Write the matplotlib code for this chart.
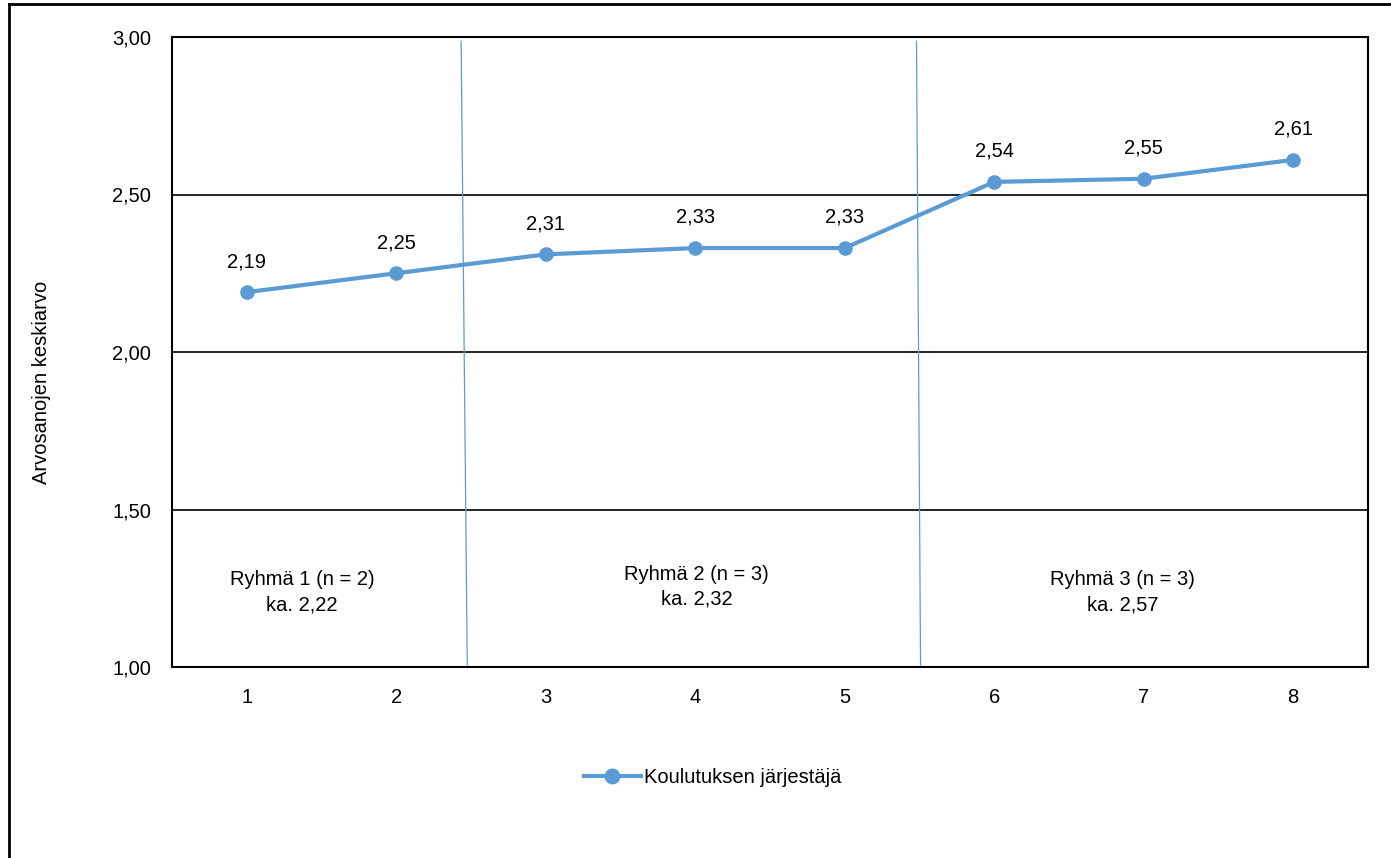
import matplotlib.pyplot as plt
from matplotlib.ticker import FuncFormatter

plt.rcParams['font.family'] = ['Liberation Sans', 'DejaVu Sans']

# data
positions = [1, 2, 3, 4, 5, 6, 7, 8]
means = [2.19, 2.25, 2.31, 2.33, 2.33, 2.54, 2.55, 2.61]
series_name = 'Koulutuksen järjestäjä'
group_texts = ['Ryhmä 1 (n = 2)\nka. 2,22',
               'Ryhmä 2 (n = 3)\nka. 2,32',
               'Ryhmä 3 (n = 3)\nka. 2,57']
group_centers = [1.37, 4.01, 6.86]
group_y = [1.238, 1.254, 1.238]
yticks = [1.0, 1.5, 2.0, 2.5, 3.0]

blue = '#5B9BD5'
fs = 14.5

fig = plt.figure(figsize=(13.91, 8.58), dpi=100)
ax = fig.add_axes([172 / 1391, 1 - 667 / 858, (1368 - 172) / 1391, (667 - 37) / 858])

ax.plot(positions, means, color=blue, linewidth=3, marker='o', markersize=9.5,
        label=series_name, zorder=4)

for x, v in zip(positions, means):
    ax.annotate(f'{v:.2f}'.replace('.', ','), (x, v), xytext=(0, 22),
                textcoords='offset points', ha='center', va='center', fontsize=fs)

# group separators (slightly slanted, as in the original)
ax.plot([2.434, 2.475], [2.987, 1.006], color=blue, linewidth=0.9, zorder=3)
ax.plot([5.48, 5.507], [2.987, 1.006], color=blue, linewidth=0.9, zorder=3)

for cx, cy, t in zip(group_centers, group_y, group_texts):
    ax.text(cx, cy, t, ha='center', va='center', fontsize=fs, linespacing=1.4)

ax.set_xlim(0.5, 8.5)
ax.set_ylim(1.0, 3.0)
ax.set_xticks(positions)
ax.set_yticks(yticks)
ax.yaxis.set_major_formatter(FuncFormatter(lambda v, p: f'{v:.2f}'.replace('.', ',')))
ax.tick_params(axis='y', length=0, labelsize=fs, pad=15)
ax.tick_params(axis='x', length=0, labelsize=fs, pad=15)
ax.grid(axis='y', color='black', linewidth=1.2)
for s in ax.spines.values():
    s.set_linewidth(1.5)

fig.text(42 / 1391, 1 - 382 / 858, 'Arvosanojen keskiarvo', rotation=90,
         ha='center', va='center', fontsize=fs)

ax.legend(loc='center', bbox_to_anchor=(0.452, -0.176), frameon=False,
          fontsize=fs, handlelength=2.85, handletextpad=0.15, markerscale=1.1)

# outer chart border (left and top visible)
fig.add_artist(plt.Line2D([9 / 1391, 9 / 1391], [0, 1 - 4 / 858], color='black',
                          linewidth=2, transform=fig.transFigure))
fig.add_artist(plt.Line2D([9 / 1391, 1], [1 - 4 / 858, 1 - 4 / 858], color='black',
                          linewidth=2, transform=fig.transFigure))

fig.savefig('out.png', dpi=100)
